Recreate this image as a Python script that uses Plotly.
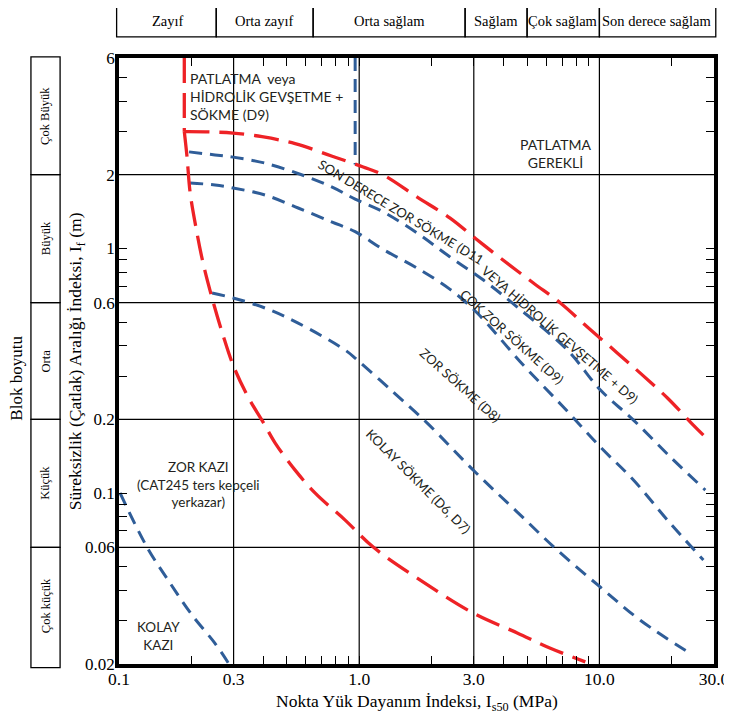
import numpy as np
import plotly.graph_objects as go

# ---------------- axis ticks / grid ----------------
X_TICKS = [0.1, 0.3, 1.0, 3.0, 10.0, 30.0]
X_TICK_TEXT = ["0.1", "0.3", "1.0", "3.0", "10.0", "30.0"]
X_MINOR = [0.2, 0.4, 0.5, 0.6, 0.7, 0.8, 0.9, 2, 4, 5, 6, 7, 8, 9, 20]
Y_TICKS = [0.02, 0.06, 0.1, 0.2, 0.6, 1, 2, 6]
Y_TICK_TEXT = ["0.02", "0.06", "0.1", "0.2", "0.6", "1", "2", "6"]
Y_MINOR = [0.03, 0.04, 0.05, 0.07, 0.08, 0.09, 0.3, 0.4, 0.5, 0.7, 0.8, 0.9, 3, 4, 5]
X_GRID = [0.3, 1.0, 3.0, 10.0]
Y_GRID = [0.06, 0.2, 0.6, 2.0]

# ---------------- classification tables ----------------
STRENGTH_CLASSES = ["Zayıf", "Orta zayıf", "Orta sağlam", "Sağlam", "Çok sağlam", "Son derece sağlam"]
STRENGTH_EDGES = [0.1, 0.254, 0.643, 2.76, 5.0, 10.0, 30.0]
BLOCK_CLASSES = ["Çok Büyük", "Büyük", "Orta", "Küçük", "Çok küçük"]
BLOCK_EDGES = [6.0, 2.0, 0.6, 0.2, 0.06, 0.02]

# ---------------- boundary curves (Is50 MPa, If m) ----------------
# red: vertical part of the blasting boundary
red_v_x = [0.187, 0.187]
red_v_y = [6.0, 3.0]
# red: blasting boundary towards strong rock
red_up_x = [0.187, 0.192, 0.244, 0.2985, 0.394, 0.541, 0.772, 1.039, 1.259, 1.744, 2.39,
            3.04, 3.87, 5.31, 6.88, 8.91, 11.9, 14.8, 19.2, 24.6, 27.1]
red_up_y = [3.0, 3.0, 2.99, 2.96, 2.86, 2.68, 2.38, 2.15, 1.995, 1.62, 1.33,
            1.10, 0.913, 0.722, 0.598, 0.477, 0.373, 0.309, 0.2445, 0.1895, 0.1725]
# red: lower branch (ripping / digging boundary)
red_low_x = [0.187, 0.192, 0.1976, 0.2093, 0.2239, 0.244, 0.271, 0.2985, 0.3447, 0.398,
             0.447, 0.541, 0.656, 0.874, 1.144, 1.744, 2.985, 4.55, 6.25, 8.74]
red_low_y = [3.0, 2.36, 1.70, 1.211, 0.871, 0.627, 0.442, 0.3335, 0.2468, 0.195,
             0.16, 0.124, 0.0999, 0.0775, 0.0601, 0.0449, 0.0323, 0.0268, 0.0232, 0.0204]
# blue: extremely hard ripping lower boundary
blue_a_x = [0.1957, 0.251, 0.2985, 0.406, 0.579, 0.772, 0.962, 1.259, 1.744, 2.39, 3.29, 4.55,
            7.36, 10.1, 13.86, 19.8, 27.6]
blue_a_y = [2.48, 2.41, 2.36, 2.23, 1.995, 1.78, 1.59, 1.41, 1.155, 0.922, 0.742, 0.5756,
            0.384, 0.2636, 0.1987, 0.140, 0.1028]
# blue: very hard ripping lower boundary
blue_b_x = [0.1976, 0.251, 0.2985, 0.406, 0.557, 0.772, 0.962, 1.259, 1.744, 2.39, 3.10, 4.82,
            7.08, 10.1, 13.86, 19.2, 27.1]
blue_b_y = [1.85, 1.816, 1.765, 1.652, 1.462, 1.281, 1.17, 0.99, 0.83, 0.68, 0.544, 0.3335,
            0.2246, 0.154, 0.113, 0.0775, 0.0532]
# blue: hard ripping lower boundary
blue_c_x = [0.244, 0.2985, 0.406, 0.557, 0.874, 0.981, 1.386, 1.92, 3.04, 4.55, 6.68, 10.1, 14.8, 24.4]
blue_c_y = [0.657, 0.627, 0.570, 0.495, 0.384, 0.35, 0.2586, 0.193, 0.1218, 0.0836, 0.0584,
            0.0412, 0.0302, 0.0218]
# blue: easy digging boundary
blue_d_x = [0.101, 0.1308, 0.16, 0.2014, 0.251, 0.287]
blue_d_y = [0.1, 0.0601, 0.0441, 0.0317, 0.0243, 0.02]
# blue: vertical boundary at Is50 ~ 1
blue_v_x = [0.962, 0.962]
blue_v_y = [6.0, 2.2]

RED = "#EE2226"
BLUE = "#2F5D98"
SERIF = "Liberation Serif"
SANS = "Lato"
TXT = "#231F20"

XR = [np.log10(0.1), np.log10(30.0)]
YR = [np.log10(0.02), np.log10(6.0)]


def xpaper(v):
    return (np.log10(v) - XR[0]) / (XR[1] - XR[0])


def ypaper(v):
    return (np.log10(v) - YR[0]) / (YR[1] - YR[0])


fig = go.Figure()

red_line = dict(color=RED, width=3.3, dash="25px,10px")
blue_line = dict(color=BLUE, width=3, dash="13px,8px")
for xs, ys, ln, shp in [
    (blue_a_x, blue_a_y, blue_line, "spline"),
    (blue_b_x, blue_b_y, blue_line, "spline"),
    (blue_c_x, blue_c_y, blue_line, "spline"),
    (blue_d_x, blue_d_y, blue_line, "spline"),
    (blue_v_x, blue_v_y, blue_line, "linear"),
    (red_v_x, red_v_y, red_line, "linear"),
    (red_up_x, red_up_y, red_line, "spline"),
    (red_low_x, red_low_y, red_line, "spline"),
]:
    fig.add_trace(go.Scatter(x=xs, y=ys, mode="lines", line=dict(ln, shape=shp, smoothing=1.0),
                             hoverinfo="skip", showlegend=False))

shapes = []
for v in X_GRID:
    shapes.append(dict(type="line", xref="x", yref="paper", x0=v, x1=v, y0=0, y1=1,
                       line=dict(color="black", width=1.2), layer="below"))
for v in Y_GRID:
    shapes.append(dict(type="line", xref="paper", yref="y", x0=0, x1=1, y0=v, y1=v,
                       line=dict(color="black", width=1.2), layer="below"))

annotations = []


def label(x, y, text, size, family=SERIF, angle=0, xref="paper", yref="paper", color="black", align="center",
          xanchor="center"):
    annotations.append(dict(x=x, y=y, xref=xref, yref=yref, text=text, showarrow=False, textangle=angle,
                            xanchor=xanchor, yanchor="middle", align=align,
                            font=dict(family=family, size=size, color=color)))


# top strength table
T_Y0, T_Y1 = 1.0347, 1.0875
for i, name in enumerate(STRENGTH_CLASSES):
    a, b = STRENGTH_EDGES[i], STRENGTH_EDGES[i + 1]
    shapes.append(dict(type="rect", xref="paper", yref="paper",
                       x0=xpaper(a) - (0.004 if i == 0 else 0),
                       x1=xpaper(b) + (0.003 if i == len(STRENGTH_CLASSES) - 1 else 0),
                       y0=T_Y0, y1=T_Y1, line=dict(color="black", width=1.3)))
    label((xpaper(a) + xpaper(b)) / 2, (T_Y0 + T_Y1) / 2, name, 14.5)

# left block-size table
L_X0, L_X1 = -0.148, -0.099
for i, name in enumerate(BLOCK_CLASSES):
    a, b = BLOCK_EDGES[i], BLOCK_EDGES[i + 1]
    shapes.append(dict(type="rect", xref="paper", yref="paper", x0=L_X0, x1=L_X1,
                       y0=ypaper(b) - (0.006 if i == len(BLOCK_CLASSES) - 1 else 0),
                       y1=ypaper(a) + (0.002 if i == 0 else 0),
                       line=dict(color="black", width=1.3)))
    label((L_X0 + L_X1) / 2, (ypaper(a) + ypaper(b)) / 2, name, 12.5, angle=-90)

# axis titles
label(0.5, -0.064, "Nokta Yük Dayanım İndeksi, I<sub>s50</sub> (MPa)", 17.5)
label(-0.072, 0.5, "Süreksizlik (Çatlak) Aralığı İndeksi, I<sub>f</sub> (m)", 17.5, angle=-90)
label(-0.172, 0.472, "Blok boyutu", 17, angle=-90)

# zone labels (annotation positions in log10 units)
zone_labels = [
    ("PATLATMA  veya<br>HİDROLİK GEVŞETME +<br>SÖKME (D9)", -0.7125, 0.6188, 0, "left", 14),
    ("PATLATMA<br>GEREKLİ", 0.8167, 0.3898, 0, "center", 14),
    ("SON DERECE ZOR SÖKME (D11", 0.175, 0.1486, 31, "center", 13),
    ("VEYA HİDROLİK GEVŞETME + D9)", 0.8375, -0.3543, 41, "center", 13),
    ("ÇOK ZOR SÖKME (D9)", 0.6375, -0.3624, 42, "center", 13),
    ("ZOR SÖKME (D8)", 0.4208, -0.5587, 42, "center", 13),
    ("KOLAY SÖKME (D6, D7)", 0.2458, -0.9512, 45, "center", 13),
    ("ZOR KAZI<br>(CAT245 ters kepçeli<br>yerkazar)", -0.6708, -0.9634, 0, "center", 13.5),
    ("KOLAY<br>KAZI", -0.8375, -1.5848, 0, "center", 13.5),
]
for text, lx, ly, ang, anchor, size in zone_labels:
    label(lx, ly, text, size, family=SANS, angle=ang, xref="x", yref="y", color=TXT,
          align=anchor, xanchor=anchor)

axis_common = dict(type="log", ticks="inside", ticklen=8, tickwidth=1.2, tickcolor="black",
                   showline=True, linecolor="black", linewidth=3.5, mirror="ticks",
                   showgrid=False, zeroline=False, tickmode="array", automargin=False)

fig.update_layout(
    width=724, height=709,
    margin=dict(l=111, r=18, t=50, b=53),
    paper_bgcolor="white", plot_bgcolor="white",
    showlegend=False, hovermode=False,
    xaxis=dict(axis_common, range=XR, tickvals=X_TICKS, ticktext=X_TICK_TEXT,
               tickfont=dict(family=SERIF, size=17.5, color="black"), ticklabelstandoff=-4,
               minor=dict(tickmode="array", tickvals=X_MINOR, ticks="inside", ticklen=8,
                          tickwidth=1.2, tickcolor="black", showgrid=False)),
    yaxis=dict(axis_common, range=YR, tickvals=Y_TICKS, ticktext=Y_TICK_TEXT,
               tickfont=dict(family=SERIF, size=17, color="black"), ticklabelstandoff=-3,
               minor=dict(tickmode="array", tickvals=Y_MINOR, ticks="inside", ticklen=8,
                          tickwidth=1.2, tickcolor="black", showgrid=False)),
    shapes=shapes,
    annotations=annotations,
)

fig.write_html("out.html")
